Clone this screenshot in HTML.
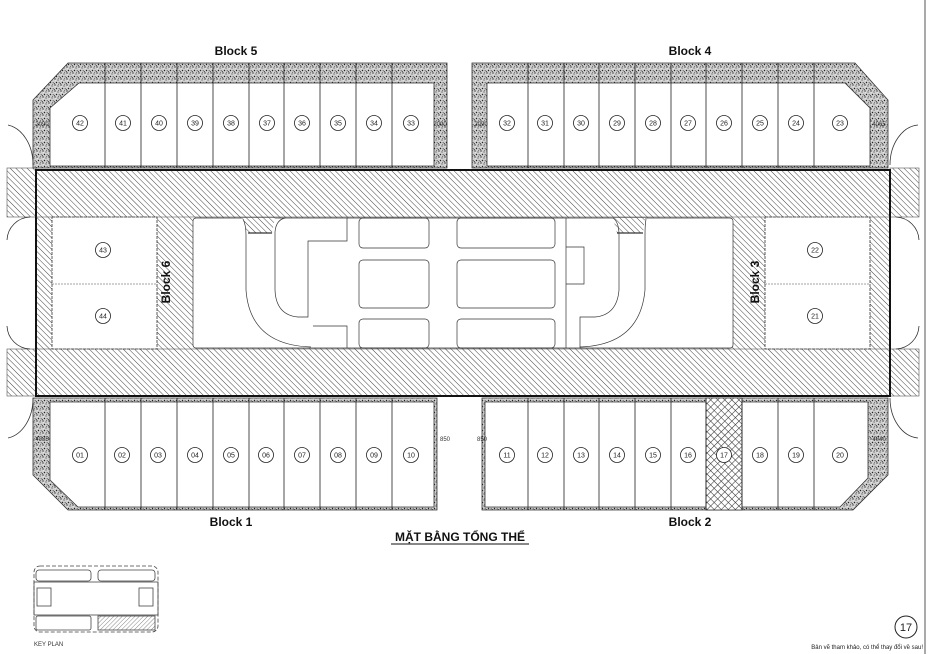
<!DOCTYPE html>
<html><head><meta charset="utf-8"><style>
html,body{margin:0;padding:0;background:#fff;}
svg{display:block;font-family:"Liberation Sans",sans-serif;}
</style></head><body>
<svg width="929" height="654" viewBox="0 0 929 654" xmlns="http://www.w3.org/2000/svg">
<defs>
<pattern id="h" width="4" height="4" patternUnits="userSpaceOnUse" patternTransform="rotate(-45)">
<rect width="4" height="4" fill="#fff"/><line x1="0" y1="0" x2="0" y2="4" stroke="#444" stroke-width="1"/>
</pattern>
<pattern id="s" width="6" height="6" patternUnits="userSpaceOnUse">
<rect width="6" height="6" fill="#cfcfcf"/>
<circle cx="1" cy="1" r="0.7" fill="#333"/><circle cx="4" cy="2" r="0.6" fill="#444"/><circle cx="2.5" cy="4.5" r="0.7" fill="#222"/><circle cx="5.2" cy="4.8" r="0.6" fill="#444"/><circle cx="4.6" cy="0.4" r="0.5" fill="#555"/><circle cx="0.5" cy="5.5" r="0.5" fill="#333"/><circle cx="3" cy="3" r="0.4" fill="#fff"/><circle cx="1.5" cy="2.8" r="0.4" fill="#fff"/>
</pattern>
<pattern id="x" width="5" height="5" patternUnits="userSpaceOnUse" patternTransform="rotate(45)">
<rect width="5" height="5" fill="#fff"/><line x1="0" y1="0" x2="0" y2="5" stroke="#333" stroke-width="1.1"/><line x1="0" y1="0" x2="5" y2="0" stroke="#333" stroke-width="1.1"/>
</pattern>
<pattern id="k" width="3" height="3" patternUnits="userSpaceOnUse" patternTransform="rotate(45)">
<rect width="3" height="3" fill="#fff"/><line x1="0" y1="0" x2="0" y2="3" stroke="#555" stroke-width="0.7"/>
</pattern>
</defs>
<rect width="929" height="654" fill="#fff"/>
<line x1="925" y1="0" x2="925" y2="654" stroke="#555" stroke-width="1"/>

<rect x="7" y="168" width="29" height="49" fill="url(#h)" stroke="#555" stroke-width="0.6"/>
<rect x="7" y="349" width="29" height="47" fill="url(#h)" stroke="#555" stroke-width="0.6"/>
<rect x="890" y="168" width="29" height="49" fill="url(#h)" stroke="#555" stroke-width="0.6"/>
<rect x="890" y="349" width="29" height="47" fill="url(#h)" stroke="#555" stroke-width="0.6"/>
<g fill="none" stroke="#333" stroke-width="0.8">
<path d="M30,217 A24,24 0 0 0 7,240"/><path d="M7,326 A24,24 0 0 0 30,349"/>
<path d="M896,217 A24,24 0 0 1 919,240"/><path d="M919,326 A24,24 0 0 1 896,349"/>
<path d="M8,125 A30,40 0 0 1 33,165"/><path d="M33,398 A30,40 0 0 1 8,438"/>
<path d="M918,125 A30,40 0 0 0 890,165"/><path d="M890,398 A30,40 0 0 0 918,438"/>
</g>

<rect x="36" y="170" width="854" height="226" fill="url(#h)"/>
<rect x="52" y="217" width="105" height="132" fill="#fff" stroke="#333" stroke-width="0.8" stroke-dasharray="3,1"/>
<line x1="52" y1="284" x2="157" y2="284" stroke="#444" stroke-width="0.6" stroke-dasharray="2,1"/>
<rect x="765" y="217" width="105" height="132" fill="#fff" stroke="#333" stroke-width="0.8" stroke-dasharray="3,1"/>
<line x1="765" y1="284" x2="870" y2="284" stroke="#444" stroke-width="0.6" stroke-dasharray="2,1"/>
<rect x="193" y="218" width="540" height="130" rx="3" fill="#fff" stroke="#333" stroke-width="0.7"/>
<path d="M243,218 L275,218 L272,233 L247,233 Z" fill="url(#h)"/>
<path d="M613,218 L645,218 L643,233 L617,233 Z" fill="url(#h)"/>
<g fill="none" stroke="#333" stroke-width="0.7">
<path d="M243,219 Q246,225 246,235 L246,290 Q250,345 311,347"/>
<path d="M248,233 L272,233" stroke-width="1.2"/>
<path d="M347,218 L347,241 L308,241 L308,317 L298,317 Q276,315 275,290 L275,232 Q276,220 285,218"/>
<path d="M313,326 L347,326 L347,348"/>
<path d="M566,218 L566,348"/><path d="M566,247 L584,247 L584,284 L566,284"/>
<path d="M646,219 Q645,225 645,235 L645,290 Q640,345 580,347"/>
<path d="M617,233 L643,233" stroke-width="1.2"/>
<path d="M613,218 Q619,222 619,235 L619,290 Q617,315 595,317 L580,317 L580,348"/>
<rect x="359" y="218" width="70" height="30" rx="4"/><rect x="359" y="260" width="70" height="48" rx="4"/><rect x="359" y="319" width="70" height="29" rx="4"/>
<rect x="457" y="218" width="98" height="30" rx="4"/><rect x="457" y="260" width="98" height="48" rx="4"/><rect x="457" y="319" width="98" height="29" rx="4"/>
</g>
<rect x="36" y="170" width="854" height="226" fill="none" stroke="#111" stroke-width="2"/>
<line x1="36" y1="217" x2="890" y2="217" stroke="#444" stroke-width="0.6"/>
<line x1="36" y1="349" x2="890" y2="349" stroke="#444" stroke-width="0.6"/>

<g stroke="#333" stroke-width="0.8">
<path d="M68,63 L447,63 L447,168 L33,168 L33,100 Z" fill="url(#s)"/>
<path d="M79,83 L434,83 L434,166 L50,166 L50,108 Z" fill="#fff"/>
<path d="M472,63 L855,63 L888,100 L888,168 L472,168 Z" fill="url(#s)"/>
<path d="M487,83 L845,83 L870,108 L870,166 L487,166 Z" fill="#fff"/>
<path d="M33,398 L437,398 L437,510 L68,510 L33,475 Z" fill="url(#s)"/>
<path d="M50,402 L434,402 L434,507 L78,507 L50,480 Z" fill="#fff"/>
<path d="M482,398 L888,398 L888,475 L853,510 L482,510 Z" fill="url(#s)"/>
<path d="M485,402 L868,402 L868,478 L840,507 L485,507 Z" fill="#fff"/>
<rect x="706" y="398" width="36" height="112" fill="url(#x)"/>
</g>
<g stroke="#222" stroke-width="0.8">
<path d="M105,63V168M141,63V168M177,63V168M213,63V168M249,63V168M284,63V168M320,63V168M356,63V168M392,63V168"/>
<path d="M528,63V168M564,63V168M599,63V168M635,63V168M671,63V168M706,63V168M742,63V168M778,63V168M814,63V168"/>
<path d="M105,398V510M141,398V510M177,398V510M213,398V510M249,398V510M284,398V510M320,398V510M356,398V510M392,398V510"/>
<path d="M528,398V510M564,398V510M599,398V510M635,398V510M671,398V510M706,398V510M742,398V510M778,398V510M814,398V510"/>
</g>

<g fill="#fff" stroke="#222" stroke-width="0.8">
<circle cx="80" cy="123" r="7.5"/><circle cx="123" cy="123" r="7.5"/><circle cx="159" cy="123" r="7.5"/><circle cx="195" cy="123" r="7.5"/><circle cx="231" cy="123" r="7.5"/><circle cx="267" cy="123" r="7.5"/><circle cx="302" cy="123" r="7.5"/><circle cx="338" cy="123" r="7.5"/><circle cx="374" cy="123" r="7.5"/><circle cx="411" cy="123" r="7.5"/>
<circle cx="507" cy="123" r="7.5"/><circle cx="545" cy="123" r="7.5"/><circle cx="581" cy="123" r="7.5"/><circle cx="617" cy="123" r="7.5"/><circle cx="653" cy="123" r="7.5"/><circle cx="688" cy="123" r="7.5"/><circle cx="724" cy="123" r="7.5"/><circle cx="760" cy="123" r="7.5"/><circle cx="796" cy="123" r="7.5"/><circle cx="840" cy="123" r="7.5"/>
<circle cx="80" cy="455" r="7.5"/><circle cx="122" cy="455" r="7.5"/><circle cx="158" cy="455" r="7.5"/><circle cx="195" cy="455" r="7.5"/><circle cx="231" cy="455" r="7.5"/><circle cx="266" cy="455" r="7.5"/><circle cx="302" cy="455" r="7.5"/><circle cx="338" cy="455" r="7.5"/><circle cx="374" cy="455" r="7.5"/><circle cx="411" cy="455" r="7.5"/>
<circle cx="507" cy="455" r="7.5"/><circle cx="545" cy="455" r="7.5"/><circle cx="581" cy="455" r="7.5"/><circle cx="617" cy="455" r="7.5"/><circle cx="653" cy="455" r="7.5"/><circle cx="688" cy="455" r="7.5"/><circle cx="724" cy="455" r="7.5"/><circle cx="760" cy="455" r="7.5"/><circle cx="796" cy="455" r="7.5"/><circle cx="840" cy="455" r="7.5"/>
<circle cx="103" cy="250" r="7.5"/><circle cx="103" cy="316" r="7.5"/><circle cx="815" cy="250" r="7.5"/><circle cx="815" cy="316" r="7.5"/>
</g>
<g font-size="7" text-anchor="middle" fill="#222">
<text x="80" y="125.5">42</text><text x="123" y="125.5">41</text><text x="159" y="125.5">40</text><text x="195" y="125.5">39</text><text x="231" y="125.5">38</text><text x="267" y="125.5">37</text><text x="302" y="125.5">36</text><text x="338" y="125.5">35</text><text x="374" y="125.5">34</text><text x="411" y="125.5">33</text>
<text x="507" y="125.5">32</text><text x="545" y="125.5">31</text><text x="581" y="125.5">30</text><text x="617" y="125.5">29</text><text x="653" y="125.5">28</text><text x="688" y="125.5">27</text><text x="724" y="125.5">26</text><text x="760" y="125.5">25</text><text x="796" y="125.5">24</text><text x="840" y="125.5">23</text>
<text x="80" y="457.5">01</text><text x="122" y="457.5">02</text><text x="158" y="457.5">03</text><text x="195" y="457.5">04</text><text x="231" y="457.5">05</text><text x="266" y="457.5">06</text><text x="302" y="457.5">07</text><text x="338" y="457.5">08</text><text x="374" y="457.5">09</text><text x="411" y="457.5">10</text>
<text x="507" y="457.5">11</text><text x="545" y="457.5">12</text><text x="581" y="457.5">13</text><text x="617" y="457.5">14</text><text x="653" y="457.5">15</text><text x="688" y="457.5">16</text><text x="724" y="457.5">17</text><text x="760" y="457.5">18</text><text x="796" y="457.5">19</text><text x="840" y="457.5">20</text>
<text x="103" y="252.5">43</text><text x="103" y="318.5">44</text><text x="815" y="252.5">22</text><text x="815" y="318.5">21</text>
</g>
<g font-size="6" fill="#333" text-anchor="middle">
<text x="42" y="126">2090</text><text x="440" y="126">2090</text><text x="481" y="126">2090</text><text x="879" y="126">4065</text>
<text x="42" y="441">4035</text><text x="445" y="441">850</text><text x="482" y="441">850</text><text x="879" y="441">4040</text>
</g>

<g font-weight="bold" font-size="12" fill="#111" text-anchor="middle">
<text x="236" y="55">Block 5</text><text x="690" y="55">Block 4</text>
<text x="231" y="526">Block 1</text><text x="690" y="526">Block 2</text>
<text transform="translate(170,282) rotate(-90)">Block 6</text>
<text transform="translate(759,282) rotate(-90)">Block 3</text>
<text x="460" y="541">MẶT BẰNG TỔNG THỂ</text>
</g>
<line x1="391" y1="544" x2="529" y2="544" stroke="#111" stroke-width="1"/>

<g fill="none" stroke="#444" stroke-width="0.8">
<rect x="34" y="566" width="124" height="66" rx="6" stroke-dasharray="4,2"/>
<rect x="36" y="570" width="55" height="11" rx="3"/><rect x="98" y="570" width="57" height="11" rx="3"/>
<rect x="34" y="582" width="124" height="33"/>
<rect x="37" y="588" width="14" height="18"/><rect x="139" y="588" width="14" height="18"/>
<rect x="36" y="616" width="55" height="14" rx="2"/><rect x="98" y="616" width="57" height="14" fill="url(#k)"/>
</g>
<text x="34" y="646" font-size="6" fill="#333">KEY PLAN</text>
<circle cx="906" cy="627" r="11" fill="#fff" stroke="#222" stroke-width="1"/>
<text x="906" y="631" font-size="11" text-anchor="middle" fill="#222">17</text>
<text x="923" y="649" font-size="6" text-anchor="end" fill="#222">Bản vẽ tham khảo, có thể thay đổi về sau!</text>
</svg>
</body></html>
